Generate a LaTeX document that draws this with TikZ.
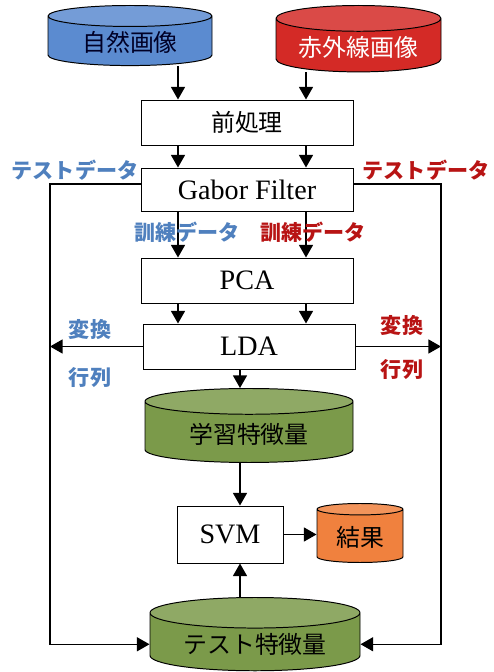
\documentclass[tikz,border=0pt]{standalone}
\usepackage{fontspec}
\setmainfont{Liberation Serif}
\newfontfamily\jp{Noto Sans CJK JP}
\usetikzlibrary{shapes.geometric,arrows.meta,backgrounds}

\definecolor{natblue}{HTML}{5B8BD0}
\definecolor{irred}{HTML}{D42A26}
\definecolor{featgreen}{HTML}{7B9A4A}
\definecolor{resorange}{HTML}{F0813E}
\definecolor{lblue}{HTML}{4F80BE}
\definecolor{lred}{HTML}{B81414}

\tikzset{
  proc/.style={draw, line width=0.7pt, fill=white, minimum width=5.3cm,
    minimum height=1.125cm, font=\fontsize{20}{22}\selectfont},
  db/.style={draw, line width=0.7pt, cylinder, shape border rotate=90,
    aspect=0.2, anchor=north, cylinder uses custom fill,
    cylinder body fill=#1, cylinder end fill=#1!85!white,
    font=\jp\fontsize{17}{20}\selectfont},
  arr/.style={line width=1pt, -{Triangle[width=10pt,length=9pt]}},
  bluetag/.style={text=lblue, font=\jp\bfseries\fontsize{15}{17}\selectfont},
  redtag/.style={text=lred, font=\jp\bfseries\fontsize{15}{17}\selectfont},
}

\begin{document}
\begin{tikzpicture}
  \useasboundingbox (0,0) rectangle (12.325,-16.8);

  % inputs
  \node[db=natblue, text=black!85!blue, minimum width=4.1cm, minimum height=1.5cm] (nat) at (3.25,-0.125) {自然画像};
  \node[db=irred, text=white, minimum width=4.125cm, minimum height=1.5cm] (ir) at (8.9625,-0.125) {赤外線画像};

  % processing chain
  \node[proc, font=\jp\fontsize{17}{20}\selectfont] (pre) at (6.175,-3.0625) {前処理};
  \node[proc, minimum height=1.075cm] (gabor) at (6.175,-4.7375) {Gabor Filter};
  \node[proc] (pca) at (6.175,-7.0125) {PCA};
  \node[proc] (lda) at (6.225,-8.6625) {LDA};

  % features and classifier
  \node[db=featgreen, minimum width=5.2cm, minimum height=1.85cm] (learn) at (6.225,-9.7) {学習特徴量};
  \node[proc, minimum width=2.65cm, minimum height=1.425cm] (svm) at (5.75,-13.3625) {SVM};
  \node[db=resorange, minimum width=2.15cm, minimum height=1.475cm] (res) at (9.0,-12.575) {結果};
  \node[db=featgreen, minimum width=5.25cm, minimum height=1.775cm] (test) at (6.375,-14.925) {テスト特徴量};

  % tags
  \node[bluetag] (tb) at (1.875,-4.25) {テストデータ};
  \node[redtag] (tr) at (10.65,-4.25) {テストデータ};
  \node[bluetag] (kb) at (4.675,-5.8) {訓練データ};
  \node[redtag] (kr) at (7.825,-5.8) {訓練データ};
  \node[bluetag] (hb1) at (2.25,-8.225) {変換};
  \node[bluetag] (hb2) at (2.25,-9.45) {行列};
  \node[redtag] (hr1) at (10.05,-8.125) {変換};
  \node[redtag] (hr2) at (10.05,-9.25) {行列};

  \coordinate (a1) at (4.45,0);
  \coordinate (a2) at (7.65,0);
  \coordinate (lx) at (1.25,0);
  \coordinate (rx) at (11.025,0);
  \coordinate (mx) at (6.0,0);
  \coordinate (gl) at ([yshift=4pt]gabor.west);
  \coordinate (gr) at ([yshift=4pt]gabor.east);

  \begin{scope}[on background layer]
    \fill[white] (0,0) rectangle (12.325,-16.8);
    \draw[arr] (nat.south -| a1) -- (pre.north -| a1);
    \draw[arr] (ir.south -| a2) -- (pre.north -| a2);
    \draw[arr] (pre.south -| a1) -- (gabor.north -| a1);
    \draw[arr] (pre.south -| a2) -- (gabor.north -| a2);
    \draw[arr] (gabor.south -| a1) -- (pca.north -| a1);
    \draw[arr] (gabor.south -| a2) -- (pca.north -| a2);
    \draw[arr] (pca.south -| a1) -- (lda.north -| a1);
    \draw[arr] (pca.south -| a2) -- (lda.north -| a2);
    \draw[arr] (lda.west) -- (lda.west -| lx);
    \draw[arr] (lda.east) -- (lda.east -| rx);
    \draw[arr] (lda.south -| mx) -- (learn.north -| mx);
    \draw[arr] (learn.south -| mx) -- (svm.north -| mx);
    \draw[arr] (test.north -| mx) -- (svm.south -| mx);
    \draw[arr] (svm.east) -- (svm.east -| res.west);
    \draw[arr] (gl) -- (gl -| lx) |- (test.west);
    \draw[arr] (gr) -- (gr -| rx) |- (test.east);
  \end{scope}
\end{tikzpicture}
\end{document}
